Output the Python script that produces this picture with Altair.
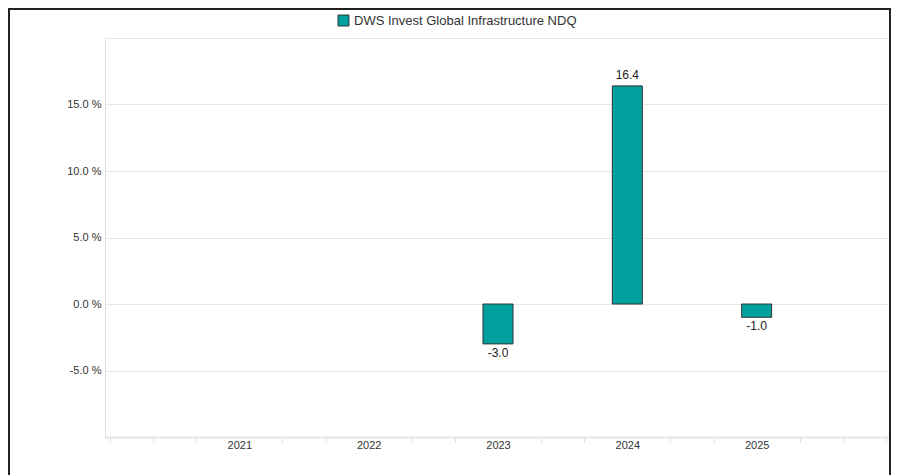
import altair as alt
import pandas as pd

years = [2021, 2022, 2023, 2024, 2025]
values = [None, None, -3.0, 16.4, -1.0]
series_name = "DWS Invest Global Infrastructure NDQ"
y_ticks = [-10, -5, 0, 5, 10, 15, 20]
x_ticks = [2020, 2020.333, 2020.667, 2021, 2021.333, 2021.667, 2022, 2022.333, 2022.667,
           2023, 2023.333, 2023.667, 2024, 2024.333, 2024.667, 2025, 2025.333, 2025.667, 2026]

df = pd.DataFrame({"year": years, "value": values, "series": series_name})
df_bars = df.dropna()

FONT = "Liberation Sans"
W, H = 786, 399

x = alt.X(
    "year:Q",
    scale=alt.Scale(domain=[2020, 2026], nice=False, zero=False),
    axis=alt.Axis(
        title=None,
        values=x_ticks,
        grid=False,
        labelExpr="abs(datum.value - round(datum.value)) < 0.01 && datum.value > 2020.5 && datum.value < 2025.5 ? format(datum.value, 'd') : ''",
        tickColor={"condition": {"test": "abs(datum.value - round(datum.value)) < 0.01 && datum.value > 2020.5 && datum.value < 2025.5", "value": "transparent"}, "value": "#dddddd"},
        tickSize=5,
        tickWidth=1,
        domainColor="#e6e6e6",
        domainWidth=2,
        labelPadding=-3,
        labelFont=FONT,
        labelFontSize=11,
        labelColor="#333333",
        labelOverlap=False,
    ),
)

y = alt.Y(
    "value:Q",
    scale=alt.Scale(domain=[-10, 20], nice=False),
    axis=alt.Axis(
        title=None,
        values=y_ticks,
        labelExpr="datum.value > -10 && datum.value < 20 ? replace(format(datum.value, '.1f'), '\u2212', '-') + ' %' : ''",
        grid=True,
        gridColor="#e6e6e6",
        gridWidth=1,
        domain=False,
        ticks=False,
        labelPadding=4,
        labelFont=FONT,
        labelFontSize=11,
        labelColor="#333333",
    ),
)

bars = alt.Chart(df_bars).mark_bar(size=30, stroke="#333333", strokeWidth=1).encode(
    x=x,
    y=y,
    color=alt.Color(
        "series:N",
        scale=alt.Scale(range=["#00a09f"]),
        legend=alt.Legend(
            title=None,
            orient="none",
            legendX=232,
            legendY=-24,
            symbolType="square",
            symbolSize=120,
            symbolStrokeColor="#333333",
            symbolStrokeWidth=1,
            labelFont=FONT,
            labelFontSize=13,
            labelColor="#333333",
            labelLimit=400,
        ),
    ),
)

base_text = alt.Chart(df_bars).transform_calculate(
    label="replace(format(datum.value, '.1f'), '\u2212', '-')"
)

pos_text = base_text.transform_filter("datum.value >= 0").mark_text(
    baseline="bottom", dy=-4, font=FONT, fontSize=12, color="#222222"
).encode(x="year:Q", y="value:Q", text="label:N")

neg_text = base_text.transform_filter("datum.value < 0").mark_text(
    baseline="top", dy=4, font=FONT, fontSize=12, color="#222222"
).encode(x="year:Q", y="value:Q", text="label:N")

frame = alt.Chart(pd.DataFrame({"a": [0]})).mark_rect(
    fill=None, stroke="#222222", strokeWidth=2, clip=False
).encode(
    x=alt.value(-96), x2=alt.value(W - 1), y=alt.value(-29), y2=alt.value(H + 40)
)

chart = alt.layer(bars, pos_text, neg_text, frame).properties(
    width=W,
    height=H,
    autosize=alt.AutoSizeParams(type="none"),
    padding={"left": 97, "top": 30, "right": 0, "bottom": 38},
).configure_view(stroke=None).configure(background="white")

chart.save("out.html", embed_options={"renderer": "svg", "actions": False})
